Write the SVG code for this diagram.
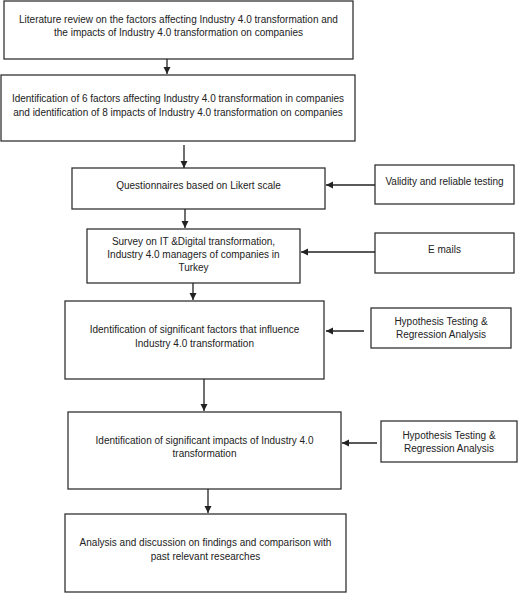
<svg xmlns="http://www.w3.org/2000/svg" width="520" height="593" viewBox="0 0 520 593">
<defs>
<marker id="ah" markerUnits="userSpaceOnUse" markerWidth="8" markerHeight="8" refX="7" refY="3.5" orient="auto">
<path d="M0,0 L7,3.5 L0,7 Z" fill="#222"/>
</marker>
<style>
.box{fill:#fff;stroke:#333;stroke-width:1.3}
.t{font-family:"Liberation Sans",Arial,sans-serif;font-size:10px;fill:#222;text-anchor:middle}
.c{stroke:#222;stroke-width:1.3;fill:none;marker-end:url(#ah)}
</style>
</defs>
<rect width="520" height="593" fill="#fff"/>
<g id="n1"><rect class="box" x="4" y="1" width="349" height="58"/>
<text class="t" x="178.5" y="22.5">Literature review on the factors affecting Industry 4.0 transformation and</text>
<text class="t" x="178.5" y="36">the impacts of Industry 4.0 transformation on companies</text></g>
<g id="n2"><rect class="box" x="1" y="75" width="354" height="66"/>
<text class="t" x="178" y="102">Identification of 6 factors affecting Industry 4.0 transformation in companies</text>
<text class="t" x="178" y="116">and identification of 8 impacts of Industry 4.0 transformation on companies</text></g>
<g id="n3"><rect class="box" x="72" y="168" width="253" height="41"/>
<text class="t" x="198.5" y="189">Questionnaires based on Likert scale</text></g>
<g id="n4"><rect class="box" x="87" y="229" width="213" height="54"/>
<text class="t" x="193.5" y="245">Survey on IT &amp;Digital transformation,</text>
<text class="t" x="193.5" y="258">Industry 4.0 managers of companies in</text>
<text class="t" x="193.5" y="271">Turkey</text></g>
<g id="n5"><rect class="box" x="65" y="301" width="259" height="78"/>
<text class="t" x="194.5" y="333">Identification of significant factors that influence</text>
<text class="t" x="194.5" y="347">Industry 4.0 transformation</text></g>
<g id="n6"><rect class="box" x="68" y="412" width="273" height="77"/>
<text class="t" x="204.5" y="444">Identification of significant impacts of Industry 4.0</text>
<text class="t" x="204.5" y="457">transformation</text></g>
<g id="n7"><rect class="box" x="65" y="514" width="281" height="78"/>
<text class="t" x="205.5" y="546">Analysis and discussion on findings and comparison with</text>
<text class="t" x="205.5" y="560">past relevant researches</text></g>
<g id="s1"><rect class="box" x="375" y="165" width="139" height="39"/>
<text class="t" x="444.5" y="185">Validity and reliable testing</text></g>
<g id="s2"><rect class="box" x="375" y="233" width="139" height="40"/>
<text class="t" x="444.5" y="253">E mails</text></g>
<g id="s3"><rect class="box" x="371" y="308" width="140" height="40"/>
<text class="t" x="441" y="325">Hypothesis Testing &amp;</text>
<text class="t" x="441" y="338">Regression Analysis</text></g>
<g id="s4"><rect class="box" x="381" y="421" width="136" height="41"/>
<text class="t" x="449" y="439">Hypothesis Testing &amp;</text>
<text class="t" x="449" y="452">Regression Analysis</text></g>
<g id="connectors">
<line class="c" x1="167" y1="59" x2="167" y2="74"/>
<line class="c" x1="184" y1="145" x2="184" y2="168"/>
<line class="c" x1="185" y1="209" x2="185" y2="228"/>
<line class="c" x1="193" y1="283" x2="193" y2="300"/>
<line class="c" x1="204" y1="379" x2="204" y2="411"/>
<line class="c" x1="208" y1="489" x2="208" y2="513"/>
<line class="c" x1="375" y1="185" x2="326" y2="185"/>
<line class="c" x1="375" y1="252" x2="301" y2="252"/>
<line class="c" x1="364" y1="331" x2="326" y2="331"/>
<line class="c" x1="377" y1="443" x2="342" y2="443"/>
</g>
</svg>
